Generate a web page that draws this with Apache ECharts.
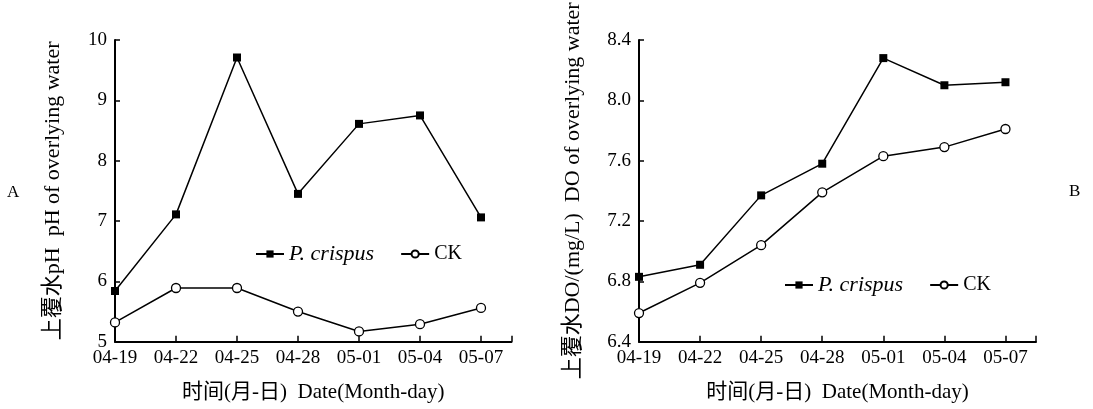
<!DOCTYPE html>
<html>
<head>
<meta charset="utf-8">
<script src="https://cdn.jsdelivr.net/npm/echarts@6/dist/echarts.min.js"></script>
<style>html,body{margin:0;padding:0;background:#fff;}#c{width:1093px;height:409px;}</style>
</head>
<body>
<div id="c"></div>
<script>
const categories = ['04-19','04-22','04-25','04-28','05-01','05-04','05-07'];
const phCrispus = [5.84, 7.11, 9.71, 7.45, 8.61, 8.75, 7.06];
const phCK = [5.32, 5.89, 5.89, 5.50, 5.17, 5.29, 5.56];
const doCrispus = [6.83, 6.91, 7.37, 7.58, 8.28, 8.10, 8.12];
const doCK = [6.59, 6.79, 7.04, 7.39, 7.63, 7.69, 7.81];
const phTicks = [5, 6, 7, 8, 9, 10];
const doTicks = ['6.4', '6.8', '7.2', '7.6', '8.0', '8.4'];

const FONT = '"Liberation Serif", "Noto Sans CJK SC", serif';
const pairs = arr => arr.map((v, i) => [i, v]);

function xAxis(gridIndex) {
  return {
    type: 'value', gridIndex, min: 0, max: 6.5, interval: 1,
    name: '时间(月-日)  Date(Month-day)', nameLocation: 'middle', nameGap: 40,
    nameTextStyle: { color: '#000', fontFamily: FONT, fontSize: 21 },
    axisLine: { show: true, lineStyle: { color: '#000', width: 2 } },
    axisTick: { show: true, inside: true, length: 6, lineStyle: { color: '#000', width: 1.5 } },
    axisLabel: { color: '#000', fontFamily: FONT, fontSize: 19, margin: 7,
      formatter: v => (Number.isInteger(v) && categories[v]) ? categories[v] : '' },
    splitLine: { show: false }
  };
}
function yAxis(gridIndex, min, max, interval, name, gap, fmt) {
  return {
    type: 'value', gridIndex, min, max, interval,
    name, nameLocation: 'middle', nameGap: gap, nameRotate: 90,
    nameTextStyle: { color: '#000', fontFamily: FONT, fontSize: 22 },
    axisLine: { show: true, lineStyle: { color: '#000', width: 2 } },
    axisTick: { show: true, inside: true, length: 5, lineStyle: { color: '#000', width: 1.5 } },
    axisLabel: { color: '#000', fontFamily: FONT, fontSize: 19, margin: 8, formatter: fmt },
    splitLine: { show: false }
  };
}
function series(name, data, idx, filled) {
  return {
    name, type: 'line', xAxisIndex: idx, yAxisIndex: idx, data: pairs(data),
    symbol: filled ? 'rect' : 'circle', symbolSize: filled ? 8 : 9,
    lineStyle: { color: '#000', width: 1.5 },
    itemStyle: filled ? { color: '#000', borderColor: '#000', borderWidth: 0 }
                      : { color: '#fff', borderColor: '#000', borderWidth: 1.3 },
    emphasis: { disabled: true }, animation: false
  };
}
function legend(left, top, gridIdx) {
  return {
    left, top, padding: 0, itemWidth: 28, itemHeight: 9, itemGap: 26,
    data: gridIdx === 0 ? ['P. crispus', 'CK'] : ['P. crispus ', 'CK '],
    textStyle: { color: '#000', fontFamily: FONT, fontSize: 20, rich: { i: { fontStyle: 'italic', fontFamily: FONT, fontSize: 22, color: '#000' } } },
    formatter: n => n.trim() === 'P. crispus' ? '{i|P. crispus}' : n.trim()
  };
}

const chart = echarts.init(document.getElementById('c'), null, { renderer: 'canvas' });
chart.setOption({
  backgroundColor: '#fff',
  animation: false,
  grid: [
    { left: 115, top: 40, width: 396.5, bottom: 67.3, containLabel: false },
    { left: 639, top: 40, width: 397, bottom: 67.3, containLabel: false }
  ],
  xAxis: [xAxis(0), xAxis(1)],
  yAxis: [
    yAxis(0, phTicks[0], phTicks[phTicks.length - 1], 1, '上覆水pH  pH of overlying water', 51, v => String(v)),
    yAxis(1, Number(doTicks[0]), Number(doTicks[doTicks.length - 1]), 0.4, '上覆水DO/(mg/L)  DO of overlying water', 55, v => v.toFixed(1))
  ],
  legend: [legend(255, 243, 0), legend(784, 274, 1)],
  series: [
    series('P. crispus', phCrispus, 0, true),
    series('CK', phCK, 0, false),
    series('P. crispus ', doCrispus, 1, true),
    series('CK ', doCK, 1, false)
  ],
  graphic: [
    { type: 'text', left: 7, top: 184, style: { text: 'A', font: '17px "Liberation Serif"', fill: '#000' } },
    { type: 'text', left: 1069, top: 183, style: { text: 'B', font: '17px "Liberation Serif"', fill: '#000' } }
  ]
});
</script>
</body>
</html>
